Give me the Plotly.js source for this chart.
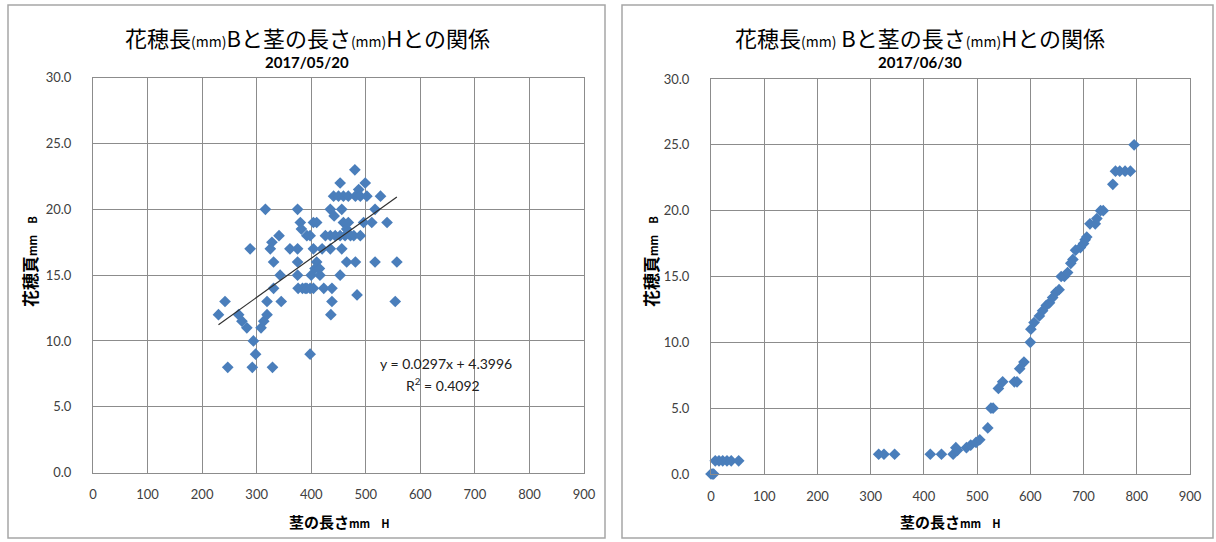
<!DOCTYPE html>
<html>
<head>
<meta charset="utf-8">
<script src="https://cdn.plot.ly/plotly-3.0.1.min.js"></script>
<style>html,body{margin:0;padding:0;background:#fff;}#chart{width:1216px;height:542px;}</style>
</head>
<body>
<div id="chart"></div>
<script>
// ---- Data: 2017/05/20 (stem length H mm, panicle length B mm) ----
const leftH = [230,242,247,267,273,282,288,292,294,298,308,313,316,319,319,325,328,329,331,331,341,343,345,361,375,375,375,375,376,380,382,384,389,392,392,398,398,398,400,404,404,404,410,410,407,416,415,420,423,426,435,435,435,436,438,438,441,442,444,450,453,453,453,456,456,459,459,462,465,465,468,468,472,478,480,481,481,484,487,490,490,496,499,502,511,517,517,527,539,554,557];
const leftB = [12,13,8,12,11.5,11,17,8,10,9,11,11.5,20,12,13,17,17.5,8,16,14,18,15,13,17,20,17,16,15,14,19,18.5,14,14,18,14,14,18,9,15,14,17,19,19,16,15.5,15,15.5,17,14,18,18,17,20,12,14,13,21,19.5,18,21,22,18,15,20,17,21,19,18,18.5,16,21,19,18,18,23,21,16,13.5,21.5,21,18,19,22,21,19,20,16,21,19,13,16];
const trendSlope = 0.0297;
const trendIntercept = 4.3996;

// ---- Data: 2017/06/30 ----
const rightH = [0,3,5,8,15,22,30,38,52,315,325,345,412,433,455,460,463,480,488,498,505,520,526,530,540,548,570,575,580,588,600,601,607,617,623,630,636,642,648,654,658,664,670,676,680,685,694,700,703,706,712,722,725,732,737,755,760,768,778,788,795];
const rightB = [0,0,0,1,1,1,1,1,1,1.5,1.5,1.5,1.5,1.5,1.5,2,1.8,2,2.2,2.4,2.6,3.5,5,5,6.5,7,7,7,8,8.5,10,11,11.5,12,12.4,12.8,13,13.4,13.8,14,15,15,15.3,16,16.3,17,17.2,17.5,17.8,18,19,19,19.4,20,20,22,23,23,23,23,25];

const xTicks = [0,100,200,300,400,500,600,700,800,900];
const yTicks = [0,5,10,15,20,25,30];

const titleLeft = '花穂長<span style="font-size:14px">(mm)</span>Bと茎の長さ<span style="font-size:14px">(mm)</span>Hとの関係';
const titleRight = '花穂長<span style="font-size:14px">(mm)</span> Bと茎の長さ<span style="font-size:14px">(mm)</span>Hとの関係';
const dateLeft = '2017/05/20';
const dateRight = '2017/06/30';
const xTitle = '<b>茎の長さ<span style="font-size:11px">mm　H</span></b>';
const yTitle = '<b>花穂頁<span style="font-size:11px">mm　B</span></b>';

const W = 1216, H = 542;
const px = v => v / W;
const py = v => 1 - v / H;

const mColor = '#4a7ebb';
const marker = {symbol: 'diamond', size: 9, color: mColor, line: {width: 0}};

const tMin = Math.min(...leftH), tMax = Math.max(...leftH);

const traces = [
  {x: leftH, y: leftB, type: 'scatter', mode: 'markers', marker: marker, xaxis: 'x', yaxis: 'y', cliponaxis: false},
  {x: [tMin, tMax], y: [trendSlope * tMin + trendIntercept, trendSlope * tMax + trendIntercept], type: 'scatter', mode: 'lines', line: {color: '#303030', width: 1.2}, xaxis: 'x', yaxis: 'y'},
  {x: rightH, y: rightB, type: 'scatter', mode: 'markers', marker: marker, xaxis: 'x2', yaxis: 'y2', cliponaxis: false}
];

const tickFont = {family: 'Lato, "Noto Sans", sans-serif', size: 13, color: '#404040'};
const gridC = '#8c8c8c';
function xa(dom, anchor) {
  return {domain: dom, anchor: anchor, range: [0, 900], tickvals: xTicks, ticktext: xTicks.map(String),
    showgrid: true, gridcolor: gridC, gridwidth: 1, zeroline: false, showline: true, linecolor: gridC, linewidth: 1,
    mirror: true, ticks: '', tickfont: tickFont, ticklabelstandoff: 10, fixedrange: true};
}
function ya(dom, anchor) {
  return {domain: dom, anchor: anchor, range: [0, 30], tickvals: yTicks, ticktext: yTicks.map(v => v.toFixed(1)),
    showgrid: true, gridcolor: gridC, gridwidth: 1, zeroline: false, showline: true, linecolor: gridC, linewidth: 1,
    mirror: true, ticks: '', tickfont: tickFont, ticklabelstandoff: 18, fixedrange: true};
}

const jp = '"Noto Sans CJK JP", sans-serif';
const ann = [];
function addText(text, x, y, size, extra) {
  ann.push(Object.assign({text: text, x: px(x), y: py(y), xref: 'paper', yref: 'paper', showarrow: false,
    xanchor: 'center', yanchor: 'middle', font: {family: jp, size: size, color: '#000'}}, extra || {}));
}
addText(titleLeft, 307, 37, 22);
addText(titleRight, 920, 37, 22);
addText('<b>' + dateLeft + '</b>', 307, 62, 15, {font: {family: 'Lato, sans-serif', size: 15, color: '#000'}});
addText('<b>' + dateRight + '</b>', 920, 62, 15, {font: {family: 'Lato, sans-serif', size: 15, color: '#000'}});
addText(xTitle, 339, 521, 15);
addText(xTitle, 950, 521, 15);
addText(yTitle, 29, 262, 17, {textangle: -90});
addText(yTitle, 650, 262, 17, {textangle: -90});
addText('y = 0.0297x + 4.3996', 446, 363, 14, {font: {family: 'Lato, sans-serif', size: 14, color: '#202020'}});
addText('R<sup>2</sup> = 0.4092', 443, 384, 14, {font: {family: 'Lato, sans-serif', size: 14, color: '#202020'}});

const shapes = [
  {type: 'rect', xref: 'paper', yref: 'paper', x0: px(8), x1: px(605), y0: py(538), y1: py(5), line: {color: '#a6a6a6', width: 1.5}},
  {type: 'rect', xref: 'paper', yref: 'paper', x0: px(622), x1: px(1213), y0: py(538), y1: py(5), line: {color: '#a6a6a6', width: 1.5}}
];

const layout = {
  width: W, height: H, margin: {l: 0, r: 0, t: 0, b: 0}, showlegend: false,
  paper_bgcolor: '#fff', plot_bgcolor: '#fff',
  xaxis: xa([px(93), px(584)], 'y'),
  yaxis: ya([1 - 472.6 / H, 1 - 77.7 / H], 'x'),
  xaxis2: xa([px(711), px(1190)], 'y2'),
  yaxis2: ya([1 - 474 / H, 1 - 79 / H], 'x2'),
  annotations: ann, shapes: shapes
};

Plotly.newPlot('chart', traces, layout, {displayModeBar: false, staticPlot: true});
</script>
</body>
</html>
